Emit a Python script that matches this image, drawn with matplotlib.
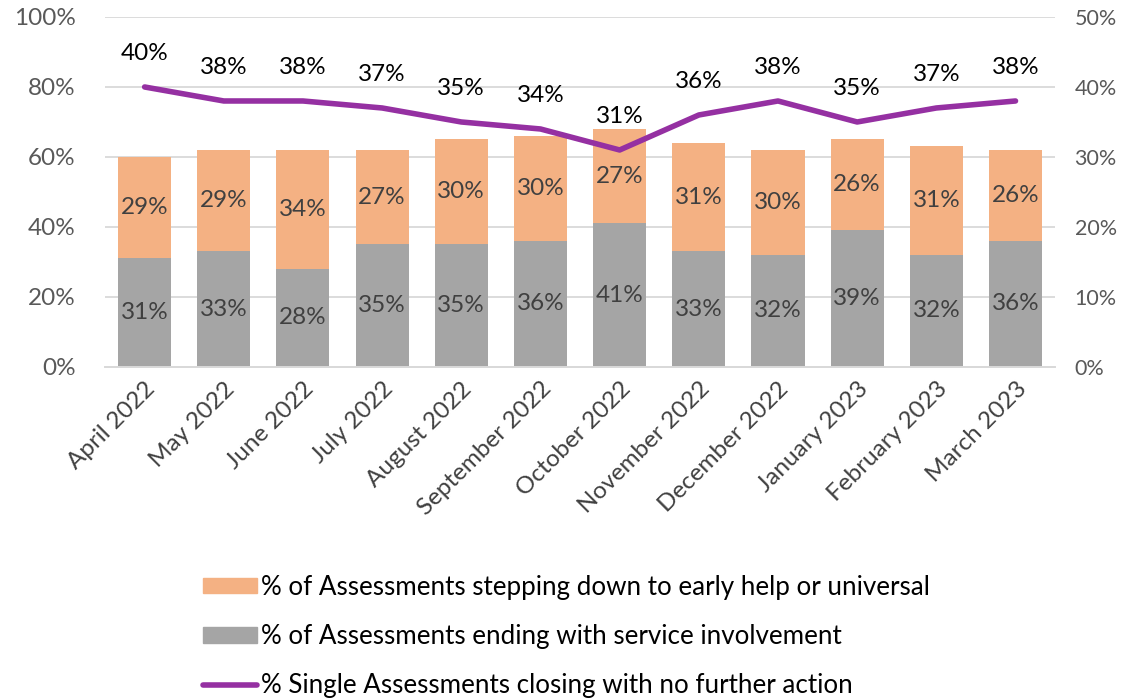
import matplotlib
matplotlib.use("Agg")

import matplotlib.pyplot as plt
from matplotlib.patches import Patch
from matplotlib.lines import Line2D

plt.rcParams['font.family'] = ['Lato', 'DejaVu Sans']

# Data
months = ["April 2022", "May 2022", "June 2022", "July 2022", "August 2022",
          "September 2022", "October 2022", "November 2022", "December 2022",
          "January 2023", "February 2023", "March 2023"]
service = [31, 33, 28, 35, 35, 36, 41, 33, 32, 39, 32, 36]
step_down = [29, 29, 34, 27, 30, 30, 27, 31, 30, 26, 31, 26]
nfa = [40, 38, 38, 37, 35, 34, 31, 36, 38, 35, 37, 38]

orange = "#F4B183"
grey = "#A5A5A5"
purple = "#9530A2"
fs = 17.5

fig = plt.figure(figsize=(11.27, 6.99), dpi=100)
ax = fig.add_axes([0.0932, 0.475, 0.8430, 0.5007])
ax2 = ax.twinx()

x = range(len(months))
ax.bar(x, service, width=0.67, color=grey, zorder=2)
ax.bar(x, step_down, width=0.67, bottom=service, color=orange, zorder=2)

for i in x:
    ax.text(i, service[i] / 2, f"{service[i]}%", ha="center", va="center",
            fontsize=fs, color="#404040", zorder=3)
    ax.text(i, service[i] + step_down[i] / 2, f"{step_down[i]}%", ha="center",
            va="center", fontsize=fs, color="#404040", zorder=3)

ax2.plot(x, nfa, color=purple, lw=4, solid_capstyle="round", zorder=4)
for i in x:
    ax2.annotate(f"{nfa[i]}%", (i, nfa[i]), xytext=(0, 24), textcoords="offset points",
                 ha="center", va="center", fontsize=fs, color="black")

ax.set_ylim(0, 100)
ax2.set_ylim(0, 50)
ax.set_xlim(-0.5, 11.5)
ax.set_yticks(range(0, 101, 20))
ax.set_yticklabels([f"{v}%" for v in range(0, 101, 20)])
ax2.set_yticks(range(0, 51, 10))
ax2.set_yticklabels([f"{v}%" for v in range(0, 51, 10)])

ax.grid(axis="y", color="#D9D9D9", lw=1.3, zorder=0)
ax.set_axisbelow(True)
for a in (ax, ax2):
    for s in ("top", "left", "right"):
        a.spines[s].set_visible(False)
    a.spines["bottom"].set_color("#D9D9D9")
    a.spines["bottom"].set_linewidth(1.3)
ax.tick_params(axis="y", length=0, pad=21, labelsize=fs, labelcolor="#595959")
ax2.tick_params(axis="y", length=0, pad=14, labelsize=fs - 2, labelcolor="#595959")
ax.set_xticks(list(x))
ax.set_xticklabels(months, rotation=45, ha="right", va="top",
                   rotation_mode="anchor", fontsize=fs, color="#404040")
ax.tick_params(axis="x", length=0, pad=8)

handles = [Patch(color=orange), Patch(color=grey),
           Line2D([], [], color=purple, lw=4, solid_capstyle="round")]
labels = ["% of Assessments stepping down to early help or universal",
          "% of Assessments ending with service involvement",
          "% Single Assessments closing with no further action"]
fig.legend(handles, labels, loc="upper left", bbox_to_anchor=(0.180, 0.178),
           frameon=False, fontsize=18.7, labelspacing=0.94, handlelength=2.1,
           handleheight=0.55, handletextpad=0.12, borderaxespad=0, borderpad=0)

fig.savefig("out.png", dpi=100)
